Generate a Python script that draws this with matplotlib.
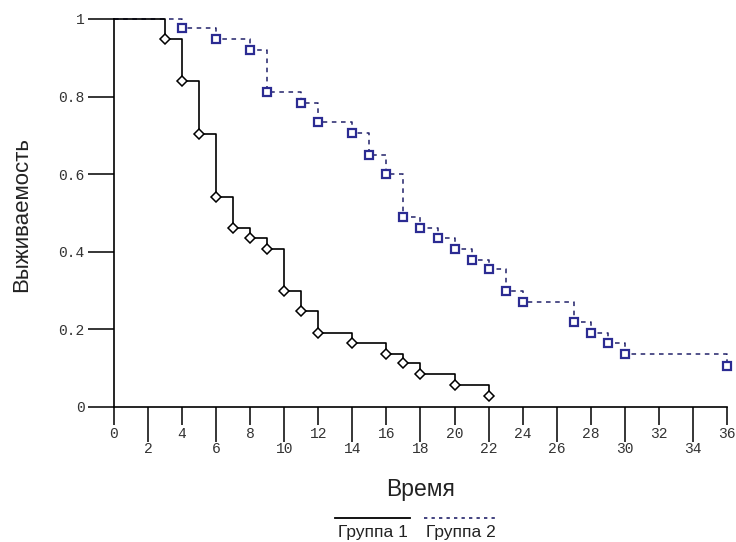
import numpy as np
import matplotlib
matplotlib.use("Agg")
import matplotlib.pyplot as plt
from matplotlib.lines import Line2D

# Data
g1_times = [3, 4, 5, 6, 7, 8, 9, 10, 11, 12, 14, 16, 17, 18, 20, 22]
g1_surv = [0.948, 0.841, 0.704, 0.542, 0.462, 0.435, 0.406, 0.299, 0.247,
           0.192, 0.164, 0.137, 0.113, 0.085, 0.057, 0.029]

g2_times = [4, 6, 8, 9, 11, 12, 14, 15, 16, 17, 18, 19, 20, 21, 22, 23, 24,
            27, 28, 29, 30, 36]
g2_surv = [0.976, 0.948, 0.920, 0.813, 0.784, 0.734, 0.705, 0.650, 0.600,
           0.490, 0.462, 0.435, 0.406, 0.379, 0.355, 0.300, 0.271, 0.219,
           0.192, 0.164, 0.136, 0.106]

x_major = list(range(0, 37, 4))
x_minor = list(range(2, 36, 4))
y_ticks = [0, 0.2, 0.4, 0.6, 0.8, 1]
y_labels = ["0", "0.2", "0.4", "0.6", "0.8", "1"]

xlabel = "Время"
ylabel = "Выживаемость"
legend_labels = ["Группа 1", "Группа 2"]

W, H = 736, 542
fig = plt.figure(figsize=(W / 100, H / 100), dpi=100)
ax = fig.add_axes([114 / W, 135 / H, 613 / W, 388 / H])

blue = "#2b2b92"
dash_col = "#22226a"

x2 = [0] + g2_times
y2 = [1] + g2_surv
ax.step(x2, y2, where="post", color=dash_col, lw=1.1,
        linestyle=(0, (3, 3)), clip_on=False, zorder=2)
ax.plot(g2_times, g2_surv, linestyle="none", marker="s", ms=5.6,
        mfc="white", mec=blue, mew=1.6, clip_on=False, zorder=3)

x1 = [0] + g1_times
y1 = [1] + g1_surv
ax.step(x1, y1, where="post", color="black", lw=1.2, clip_on=False, zorder=4)
ax.plot(g1_times, g1_surv, linestyle="none", marker="D", ms=5.5,
        mfc="white", mec="black", mew=1.1, clip_on=False, zorder=5)

ax.set_xlim(0, 36)
ax.set_ylim(0, 1)
for s in ["top", "right"]:
    ax.spines[s].set_visible(False)
for s in ["left", "bottom"]:
    ax.spines[s].set_linewidth(1.2)

mono = "Liberation Mono"
tick_fs = 10.5
ax.set_xticks(x_major)
ax.set_xticklabels([str(v) for v in x_major], family=mono, fontsize=tick_fs,
                   color="#333333")
ax.set_xticks(x_minor, minor=True)
ax.set_xticklabels([str(v) for v in x_minor], minor=True, family=mono,
                   fontsize=tick_fs, color="#333333")
ax.tick_params(axis="x", which="major", length=13, width=1.1, pad=1.5)
ax.tick_params(axis="x", which="minor", length=25, width=1.1, pad=0.5)

ax.set_yticks(y_ticks)
ax.set_yticklabels(y_labels, family=mono, fontsize=tick_fs, color="#333333")
ax.tick_params(axis="y", which="major", length=19, width=1.1, pad=2.0)

ax.set_xlabel(xlabel, family="Liberation Sans", fontsize=16.5, color="#222222")
ax.xaxis.set_label_coords(0.5, -0.183)
ax.set_ylabel(ylabel, family="Liberation Sans", fontsize=16, color="#222222")
ax.yaxis.set_label_coords(-0.134, 0.495)

# legend drawn below
fig.add_artist(Line2D([335 / W, 410 / W], [1 - 517.7 / H, 1 - 517.7 / H],
                      color="black", lw=1.3))
fig.add_artist(Line2D([424 / W, 495 / W], [1 - 517.7 / H, 1 - 517.7 / H],
                      color=dash_col, lw=1.2, linestyle=(0, (2, 2.5))))
fig.text(373 / W, 1 - 537 / H, legend_labels[0], family="Liberation Sans",
         fontsize=12.5, ha="center", va="baseline", color="#222222")
fig.text(461 / W, 1 - 537 / H, legend_labels[1], family="Liberation Sans",
         fontsize=12.5, ha="center", va="baseline", color="#222222")

fig.savefig("out.png", dpi=100)
